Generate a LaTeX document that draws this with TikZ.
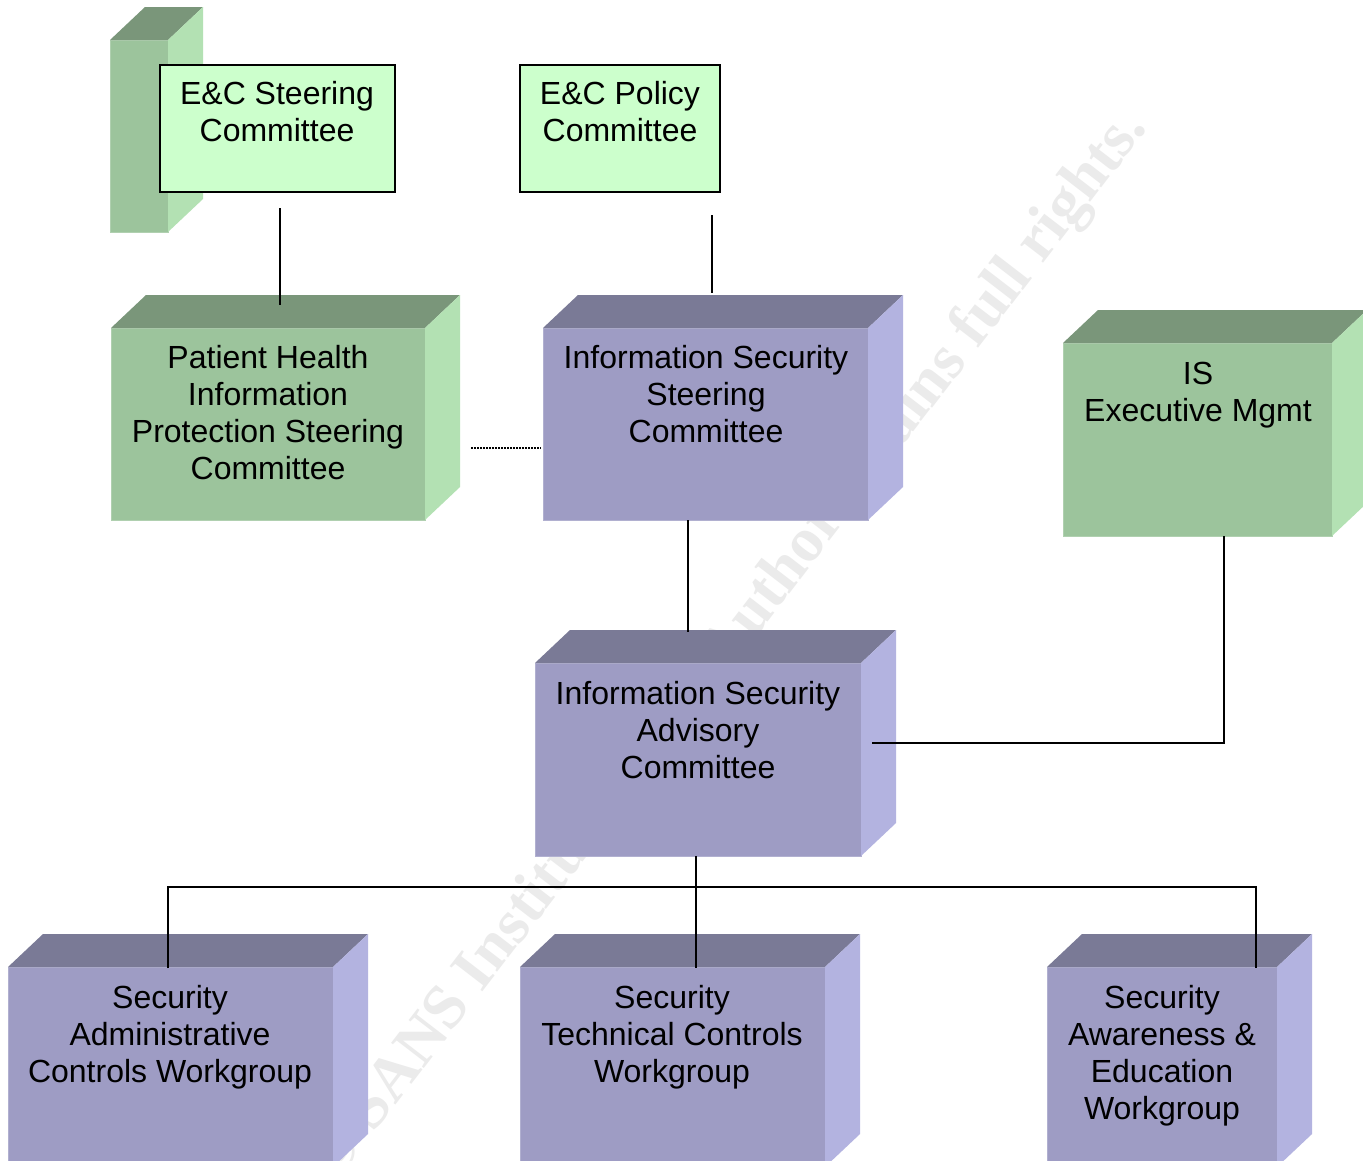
\documentclass[tikz,border=0pt]{standalone}
\usepackage{fontspec}
\setmainfont{Liberation Sans}
\newfontfamily\wmfont{Liberation Serif}
\definecolor{gfront}{HTML}{9CC49C}
\definecolor{gtop}{HTML}{7A967A}
\definecolor{gside}{HTML}{B3E1B3}
\definecolor{pfront}{HTML}{9E9CC4}
\definecolor{ptop}{HTML}{7A7A96}
\definecolor{pside}{HTML}{B3B3E0}
\definecolor{lgreen}{HTML}{CCFFCC}
\newcommand{\cubefaces}[3]{%
  \fill[#2] (#1.north west) -- ([shift={(35,-33)}]#1.north west) -- ([shift={(35,-33)}]#1.north east) -- (#1.north east) -- cycle;
  \fill[#3] (#1.north east) -- ([shift={(35,-33)}]#1.north east) -- ([shift={(35,-33)}]#1.south east) -- (#1.south east) -- cycle;}
\begin{document}
\begin{tikzpicture}[x=1pt,y=-1pt,
  face/.style={anchor=north west,inner sep=0pt,outer sep=0pt,rectangle},
  gface/.style={face,fill=gfront,draw=gfront!80!white,line width=0.8pt},
  pface/.style={face,fill=pfront,draw=pfront!80!white,line width=0.8pt},
  lbox/.style={face,fill=lgreen,draw=black,line width=1.3pt},
  lbl/.style={anchor=base,align=center,inner sep=0pt,font=\fontsize{32}{37}\selectfont},
  conn/.style={draw=black,line width=1.7pt},
  dotconn/.style={draw=black,line width=1.8pt,dash pattern=on 1.5pt off 1.5pt}]
\useasboundingbox (0,0) rectangle (1363,1160);
\clip (0,0) rectangle (1363,1160);
\fill[white] (0,0) rectangle (1363,1160);
% watermark
\node[rotate=52.4,text=black!8,inner sep=0pt,font=\wmfont\bfseries\fontsize{63}{63}\selectfont] (wm) at (730,646) {© SANS Institute 2004, Author retains full rights.};
% tall green block behind E&C Steering
\node[gface,minimum width=58pt,minimum height=192pt] (ecback) at (110,40) {};
\cubefaces{ecback}{gtop}{gside}
% flat boxes
\node[lbox,minimum width=235pt,minimum height=127pt] (ecs) at (160,65) {};
\node[lbl] (ecsT) at (277,141) {E\&C Steering\\Committee};
\node[lbox,minimum width=200pt,minimum height=127pt] (ecp) at (520,65) {};
\node[lbl] (ecpT) at (620,141) {E\&C Policy\\Committee};
% PHI
\node[gface,minimum width=314pt,minimum height=192pt] (phi) at (111,328) {};
\cubefaces{phi}{gtop}{gside}
\node[lbl] (phiT) at (268,479) {Patient Health\\Information\\Protection Steering\\Committee};
% IS Steering
\node[pface,minimum width=325pt,minimum height=192pt] (iss) at (543,328) {};
\cubefaces{iss}{ptop}{pside}
\node[lbl] (issT) at (706,442) {Information Security\\Steering\\Committee};
% IS Exec
\node[gface,minimum width=269pt,minimum height=193pt] (exec) at (1063,343) {};
\cubefaces{exec}{gtop}{gside}
\node[lbl] (execT) at (1198,421) {IS\\Executive Mgmt};
% Advisory
\node[pface,minimum width=326pt,minimum height=193pt] (adv) at (535,663) {};
\cubefaces{adv}{ptop}{pside}
\node[lbl] (advT) at (698,778) {Information Security\\Advisory\\Committee};
% bottom row
\node[pface,minimum width=325pt,minimum height=200pt] (adm) at (8,967) {};
\cubefaces{adm}{ptop}{pside}
\node[lbl] (admT) at (170,1082) {Security\\Administrative\\Controls Workgroup};
\node[pface,minimum width=305pt,minimum height=200pt] (tech) at (520,967) {};
\cubefaces{tech}{ptop}{pside}
\node[lbl] (techT) at (672,1082) {Security\\Technical Controls\\Workgroup};
\node[pface,minimum width=230pt,minimum height=200pt] (awa) at (1047,967) {};
\cubefaces{awa}{ptop}{pside}
\node[lbl] (awaT) at (1162,1119) {Security\\Awareness \&\\Education\\Workgroup};
% connector end points
\coordinate (ecsOut) at (280,208);
\coordinate (phiIn) at (280,305);
\coordinate (ecpOut) at (712,215);
\coordinate (issIn) at (712,293);
\coordinate (phiDot) at (471,448);
\coordinate (issDot) at (541,448);
\coordinate (issOut) at (688,520);
\coordinate (advIn) at (688,632);
\coordinate (advRight) at (872,743);
\coordinate (execOut) at (1224,536);
\coordinate (advOut) at (696,856);
\coordinate (techIn) at (696,968);
\coordinate (admIn) at (168,968);
\coordinate (awaIn) at (1256,968);
\coordinate (busL) at (168,887);
\coordinate (busR) at (1256,887);
% connectors
\draw[conn] (ecsOut) -- (phiIn);
\draw[conn] (ecpOut) -- (issIn);
\draw[dotconn] (phiDot) -- (issDot);
\draw[conn] (issOut) -- (advIn);
\draw[conn] (advRight) -| (execOut);
\draw[conn] (advOut) -- (techIn);
\draw[conn] (admIn) -- (busL) -- (busR) -- (awaIn);
\end{tikzpicture}
\end{document}
